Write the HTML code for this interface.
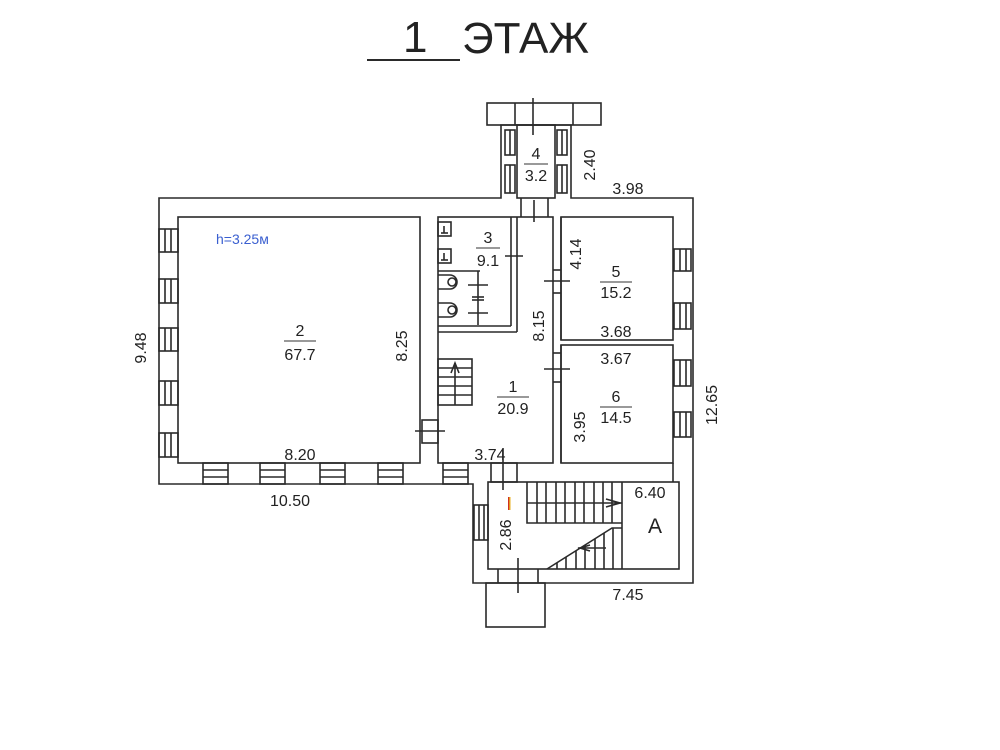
<!DOCTYPE html>
<html><head><meta charset="utf-8"><style>
html,body{margin:0;padding:0;background:#fff;}
svg{display:block;}
text{font-family:"Liberation Sans",sans-serif;fill:#222;}
</style></head><body>
<svg width="1000" height="750" viewBox="0 0 1000 750" xmlns="http://www.w3.org/2000/svg">
<g fill="none" stroke="#2a2a2a" stroke-width="1.6">
<line x1="367" y1="60" x2="460" y2="60" stroke-width="2"/>
<polygon points="159,198 501,198 501,125 571,125 571,198 693,198 693,583 473,583 473,484 159,484"/>
<rect x="487" y="103" width="114" height="22"/>
<line x1="515" y1="103" x2="515" y2="125"/><line x1="573" y1="103" x2="573" y2="125"/>
<line x1="533" y1="98" x2="533" y2="135"/>
<rect x="517" y="125" width="38" height="73"/>
<rect x="505" y="130" width="10" height="25"/><line x1="510" y1="130" x2="510" y2="155"/>
<rect x="505" y="165" width="10" height="28"/><line x1="510" y1="165" x2="510" y2="193"/>
<rect x="557" y="130" width="10" height="25"/><line x1="562" y1="130" x2="562" y2="155"/>
<rect x="557" y="165" width="10" height="28"/><line x1="562" y1="165" x2="562" y2="193"/>
<line x1="521" y1="198" x2="521" y2="217"/><line x1="548" y1="198" x2="548" y2="217"/>
<line x1="534" y1="200" x2="534" y2="222"/>
<rect x="178" y="217" width="242" height="246"/>
<g>
<rect x="159" y="229" width="19" height="23"/><line x1="165" y1="229" x2="165" y2="252"/><line x1="171" y1="229" x2="171" y2="252"/>
<rect x="159" y="279" width="19" height="24"/><line x1="165" y1="279" x2="165" y2="303"/><line x1="171" y1="279" x2="171" y2="303"/>
<rect x="159" y="328" width="19" height="23"/><line x1="165" y1="328" x2="165" y2="351"/><line x1="171" y1="328" x2="171" y2="351"/>
<rect x="159" y="381" width="19" height="24"/><line x1="165" y1="381" x2="165" y2="405"/><line x1="171" y1="381" x2="171" y2="405"/>
<rect x="159" y="433" width="19" height="24"/><line x1="165" y1="433" x2="165" y2="457"/><line x1="171" y1="433" x2="171" y2="457"/>
</g>
<g>
<rect x="203" y="463" width="25" height="21"/><line x1="203" y1="470" x2="228" y2="470"/><line x1="203" y1="477" x2="228" y2="477"/>
<rect x="260" y="463" width="25" height="21"/><line x1="260" y1="470" x2="285" y2="470"/><line x1="260" y1="477" x2="285" y2="477"/>
<rect x="320" y="463" width="25" height="21"/><line x1="320" y1="470" x2="345" y2="470"/><line x1="320" y1="477" x2="345" y2="477"/>
<rect x="378" y="463" width="25" height="21"/><line x1="378" y1="470" x2="403" y2="470"/><line x1="378" y1="477" x2="403" y2="477"/>
<rect x="443" y="463" width="25" height="21"/><line x1="443" y1="470" x2="468" y2="470"/><line x1="443" y1="477" x2="468" y2="477"/>
</g>
<g>
<rect x="674" y="249" width="17" height="22"/><line x1="680" y1="249" x2="680" y2="271"/><line x1="686" y1="249" x2="686" y2="271"/>
<rect x="674" y="303" width="17" height="26"/><line x1="680" y1="303" x2="680" y2="329"/><line x1="686" y1="303" x2="686" y2="329"/>
<rect x="674" y="360" width="17" height="26"/><line x1="680" y1="360" x2="680" y2="386"/><line x1="686" y1="360" x2="686" y2="386"/>
<rect x="674" y="412" width="17" height="25"/><line x1="680" y1="412" x2="680" y2="437"/><line x1="686" y1="412" x2="686" y2="437"/>
</g>
<rect x="422" y="420" width="16" height="23"/>
<line x1="415" y1="431" x2="445" y2="431"/>
<rect x="438" y="217" width="115" height="246"/>
<line x1="511" y1="217" x2="511" y2="326"/><line x1="517" y1="217" x2="517" y2="332"/>
<line x1="438" y1="326" x2="511" y2="326"/><line x1="438" y1="332" x2="517" y2="332"/>
<line x1="505" y1="256" x2="523" y2="256"/>
<rect x="438" y="222" width="13" height="14"/><line x1="444" y1="226" x2="444" y2="233"/><line x1="441" y1="233" x2="448" y2="233"/>
<rect x="438" y="249" width="13" height="14"/><line x1="444" y1="253" x2="444" y2="260"/><line x1="441" y1="260" x2="448" y2="260"/>
<path d="M438,275 H450 A7,7 0 0 1 450,289 H438"/><circle cx="452" cy="282" r="4"/>
<path d="M438,303 H450 A7,7 0 0 1 450,317 H438"/><circle cx="452" cy="310" r="4"/>
<line x1="438" y1="271" x2="480" y2="271"/>
<line x1="478" y1="271" x2="478" y2="325"/>
<line x1="468" y1="285" x2="488" y2="285"/><line x1="472" y1="297" x2="484" y2="297"/><line x1="472" y1="300" x2="484" y2="300"/><line x1="468" y1="313" x2="488" y2="313"/>
<rect x="438" y="359" width="34" height="46"/>
<line x1="438" y1="368" x2="472" y2="368"/><line x1="438" y1="377" x2="472" y2="377"/><line x1="438" y1="386" x2="472" y2="386"/><line x1="438" y1="395" x2="472" y2="395"/>
<line x1="455" y1="405" x2="455" y2="363"/><path d="M451,373 L455,363 L459,373"/>
<line x1="561" y1="217" x2="561" y2="340"/><line x1="561" y1="345" x2="561" y2="463"/>
<line x1="553" y1="270" x2="561" y2="270"/><line x1="553" y1="293" x2="561" y2="293"/>
<line x1="544" y1="281" x2="570" y2="281"/>
<line x1="553" y1="353" x2="561" y2="353"/><line x1="553" y1="382" x2="561" y2="382"/>
<line x1="544" y1="369" x2="570" y2="369"/>
<rect x="561" y="217" width="112" height="123"/>
<rect x="561" y="345" width="112" height="118"/>
<line x1="673" y1="463" x2="673" y2="482"/>
<rect x="488" y="482" width="191" height="87"/>
<rect x="491" y="463" width="26" height="19"/><line x1="503" y1="448" x2="503" y2="490"/>
<rect x="474" y="505" width="14" height="35"/><line x1="479" y1="505" x2="479" y2="540"/><line x1="484" y1="505" x2="484" y2="540"/>
<line x1="498" y1="569" x2="498" y2="583"/><line x1="538" y1="569" x2="538" y2="583"/>
<line x1="518" y1="558" x2="518" y2="593"/>
<rect x="486" y="583" width="59" height="44"/>
<path d="M527,482 V523 H622"/>
<line x1="622" y1="482" x2="622" y2="569"/>
<line x1="527" y1="503" x2="622" y2="503"/>
<g>
<line x1="537" y1="482" x2="537" y2="523"/><line x1="546" y1="482" x2="546" y2="523"/><line x1="556" y1="482" x2="556" y2="523"/><line x1="565" y1="482" x2="565" y2="523"/><line x1="575" y1="482" x2="575" y2="523"/><line x1="584" y1="482" x2="584" y2="523"/><line x1="594" y1="482" x2="594" y2="523"/><line x1="603" y1="482" x2="603" y2="523"/><line x1="612" y1="482" x2="612" y2="523"/>
</g>
<path d="M606,499 L620,503 L606,507"/>
<path d="M547,569 L612,528 H622"/>
<line x1="557" y1="563" x2="557" y2="569"/><line x1="566" y1="557" x2="566" y2="569"/><line x1="576" y1="551" x2="576" y2="569"/><line x1="585" y1="545" x2="585" y2="569"/><line x1="595" y1="539" x2="595" y2="569"/><line x1="604" y1="533" x2="604" y2="569"/><line x1="613" y1="528" x2="613" y2="569"/>
<line x1="578" y1="548" x2="606" y2="548"/><path d="M590,545 L580,548 L590,551"/>
</g>
<rect x="508" y="497" width="2.5" height="13" fill="#e8b020"/><rect x="508" y="497" width="1.2" height="13" fill="#d03020"/>
<text x="403" y="52" font-size="44">1</text>
<text x="462" y="53" font-size="44">ЭТАЖ</text>
<g font-size="16" text-anchor="middle">
<text x="536" y="159">4</text><line x1="524" y1="164" x2="548" y2="164" stroke="#333"/><text x="536" y="181">3.2</text>
<text x="628" y="194">3.98</text>
<text x="300" y="336">2</text><line x1="284" y1="341" x2="316" y2="341" stroke="#333"/><text x="300" y="360">67.7</text>
<text x="300" y="460">8.20</text>
<text x="488" y="243">3</text><line x1="476" y1="248" x2="500" y2="248" stroke="#333"/><text x="488" y="266">9.1</text>
<text x="616" y="277">5</text><line x1="600" y1="282" x2="632" y2="282" stroke="#333"/><text x="616" y="298">15.2</text>
<text x="616" y="337">3.68</text>
<text x="616" y="364">3.67</text>
<text x="616" y="402">6</text><line x1="600" y1="407" x2="632" y2="407" stroke="#333"/><text x="616" y="423">14.5</text>
<text x="513" y="392">1</text><line x1="497" y1="397" x2="529" y2="397" stroke="#333"/><text x="513" y="414">20.9</text>
<text x="490" y="460">3.74</text>
<text x="650" y="498">6.40</text>
<text x="628" y="600">7.45</text>
<text x="290" y="506">10.50</text>
<text x="655" y="533" font-size="21">A</text>
<text transform="translate(595,165) rotate(-90)">2.40</text>
<text transform="translate(407,346) rotate(-90)">8.25</text>
<text transform="translate(581,254) rotate(-90)">4.14</text>
<text transform="translate(544,326) rotate(-90)">8.15</text>
<text transform="translate(585,427) rotate(-90)">3.95</text>
<text transform="translate(511,535) rotate(-90)">2.86</text>
<text transform="translate(146,348) rotate(-90)">9.48</text>
<text transform="translate(717,405) rotate(-90)">12.65</text>
</g>
<text x="216" y="244" font-size="14" style="fill:#3a5fd0">h=3.25м</text>
</svg>
</body></html>
